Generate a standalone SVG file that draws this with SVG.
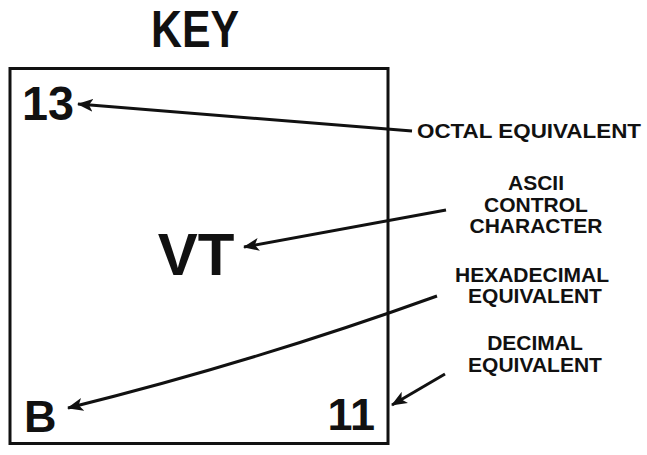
<svg xmlns="http://www.w3.org/2000/svg" width="647" height="455" viewBox="0 0 647 455">
<style>
text{font-family:"Liberation Sans",Arial,sans-serif;font-weight:bold;fill:#111}
.lbl{font-size:21px;text-anchor:middle}
.con{fill:none;stroke:#111;stroke-width:3}
</style>
<defs>
<marker id="ah" viewBox="0 -7 16 14" refX="15" refY="0" markerWidth="16" markerHeight="14" markerUnits="userSpaceOnUse" orient="auto">
<path d="M0,-6.5 L16,0 L0,6.5 L4,0 Z" fill="#111"/>
</marker>
</defs>
<rect width="647" height="455" fill="#fff"/>
<g id="title"><text x="195" y="47" font-size="52" text-anchor="middle" textLength="88" lengthAdjust="spacingAndGlyphs">KEY</text></g>
<g id="key-box">
<rect x="10" y="68.5" width="378" height="375" fill="none" stroke="#111" stroke-width="3"/>
</g>
<g id="octal"><text x="22" y="120" font-size="49" textLength="52" lengthAdjust="spacingAndGlyphs">13</text></g>
<g id="ascii"><text x="196" y="275" font-size="60" text-anchor="middle">VT</text></g>
<g id="hex"><text x="24" y="432" font-size="45">B</text></g>
<g id="decimal"><text x="375" y="430" font-size="45" text-anchor="end">11</text></g>
<g id="label-octal"><text x="641" y="138" font-size="21" text-anchor="end" textLength="224" lengthAdjust="spacingAndGlyphs">OCTAL EQUIVALENT</text></g>
<g id="label-ascii">
<text class="lbl" x="536" y="190">ASCII</text>
<text class="lbl" x="536" y="212">CONTROL</text>
<text class="lbl" x="536" y="233">CHARACTER</text>
</g>
<g id="label-hex">
<text class="lbl" x="532" y="282">HEXADECIMAL</text>
<text class="lbl" x="535" y="303">EQUIVALENT</text>
</g>
<g id="label-decimal">
<text class="lbl" x="535" y="350">DECIMAL</text>
<text class="lbl" x="535" y="372">EQUIVALENT</text>
</g>
<g id="connectors">
<path class="con" d="M412,131 L78,104" marker-end="url(#ah)"/>
<path class="con" d="M446,210 L244,247" marker-end="url(#ah)"/>
<path class="con" d="M437,296 Q254,362 68,408" marker-end="url(#ah)"/>
<path class="con" d="M445,374 L392,405" marker-end="url(#ah)"/>
</g>
</svg>
